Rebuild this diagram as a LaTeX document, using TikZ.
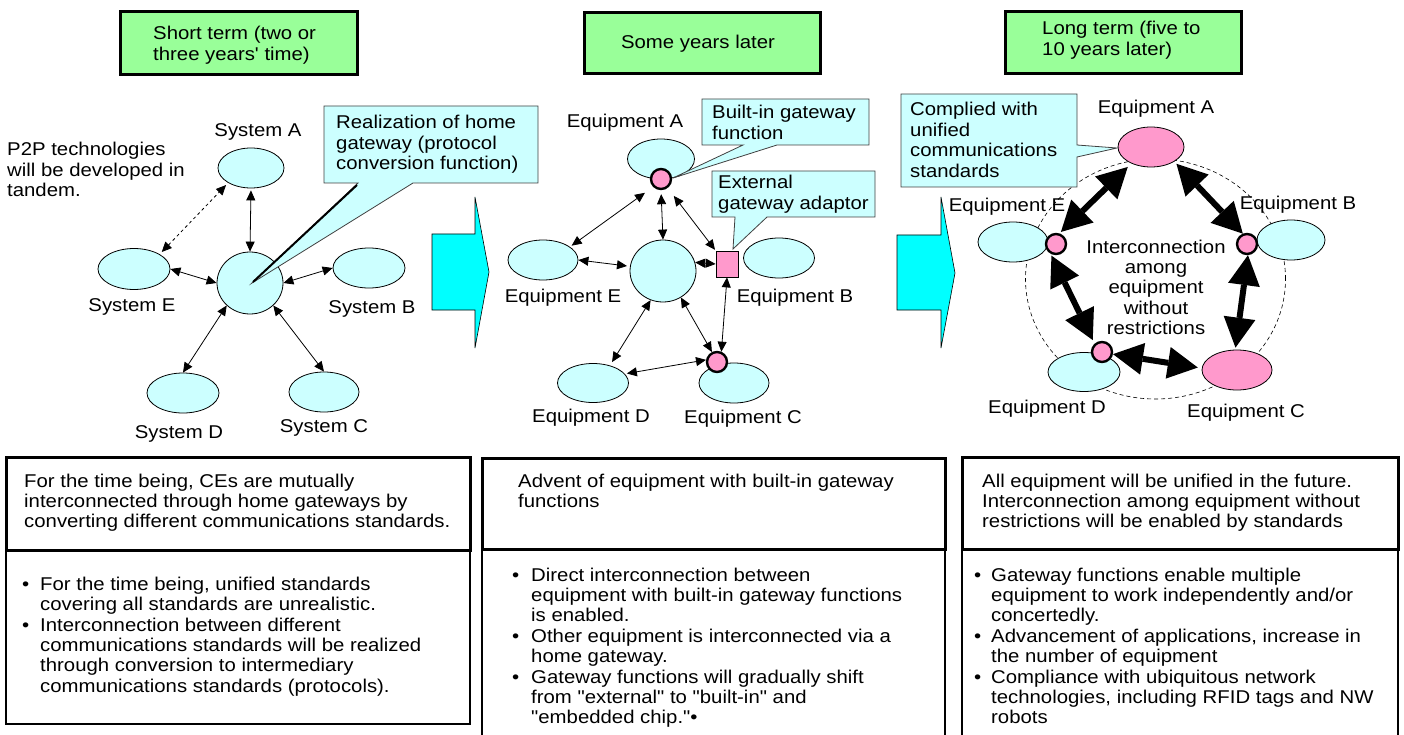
\documentclass[tikz,border=0pt]{standalone}
\usepackage{fontspec}
\newfontfamily\myfont{Liberation Sans}[FakeStretch=1.1]
\usetikzlibrary{arrows.meta,shapes.geometric}
\newcommand\myfs{\myfont\fontsize{18.5}{20.4}\selectfont}
\definecolor{lcyan}{HTML}{CCFFFF}
\definecolor{lgreen}{HTML}{99FF99}
\definecolor{lpink}{HTML}{FF99CC}
\definecolor{bcyan}{HTML}{00FFFF}
\begin{document}
\begin{tikzpicture}[x=1pt,y=-1pt,
  txt/.style={font=\myfs,inner sep=0pt,align=left,anchor=base west},
  lbl/.style={font=\myfs,inner sep=0pt,anchor=base},
  dev/.style={ellipse,draw,line width=0.8pt,fill=lcyan,inner sep=0pt,minimum width=70pt,minimum height=40pt},
  pdev/.style={dev,fill=lpink},
  gw/.style={circle,draw,line width=2.4pt,fill=lpink,inner sep=0pt,minimum size=20pt},
  titlebox/.style={draw,line width=3pt,fill=lgreen},
  callout/.style={draw=black!75,line width=0.8pt,fill=lcyan},
  bigarrow/.style={draw,line width=0.6pt,fill=bcyan},
  tarr/.style={{Triangle[length=10pt,width=9pt]}-{Triangle[length=10pt,width=9pt]},line width=0.8pt},
  Tarr/.style={{Triangle[length=30pt,width=32pt,line width=0pt]}-{Triangle[length=30pt,width=32pt,line width=0pt]},line width=6pt},
  topbox/.style={draw,line width=3pt},
  lowbox/.style={draw,line width=2.2pt}]
\useasboundingbox (0,0) rectangle (1404,735);
\clip (0,0) rectangle (1404,735);

% ---------------- title boxes (multi-line nodes are placed at the baseline of their last line)
\draw[titlebox] (120,12) rectangle (357,75);
\node[txt] (t1) at (153,60.4) {Short term (two or\\three years' time)};
\draw[titlebox] (584,13) rectangle (820,74);
\node[lbl] (t2) at (698,49) {Some years later};
\draw[titlebox] (1005,12) rectangle (1241,74);
\node[txt] (t3) at (1042,55.4) {Long term (five to\\10 years later)};

% ---------------- big arrows
\draw[bigarrow] (432,234) -- (475,234) -- (475,197) -- (489,272) -- (475,348) -- (475,310) -- (432,310) -- cycle;
\draw[bigarrow] (897,235) -- (941,235) -- (941,197) -- (955,273) -- (941,348) -- (941,310) -- (897,310) -- cycle;

% ---------------- left diagram
\node[txt] (p2p) at (7,196.8) {P2P technologies\\will be developed in\\tandem.};
\node[dev,minimum width=66pt] (sA) at (251,168) {};
\node[dev,minimum width=72pt,minimum height=41pt] (sE) at (134,269) {};
\node[dev,minimum width=72pt] (sB) at (369,268) {};
\node[dev,minimum width=72pt] (sD) at (183,393) {};
\node[dev] (sC) at (324,392) {};
\node[dev,minimum width=66pt,minimum height=62pt] (h1) at (250,283) {};
\node[lbl] (lsA) at (258,137) {System A};
\node[lbl] (lsE) at (132,311) {System E};
\node[lbl] (lsB) at (372,313) {System B};
\node[lbl] (lsD) at (179,438) {System D};
\node[lbl] (lsC) at (324,432) {System C};
\draw[tarr,shorten <=2pt] (sA.south) -- (h1.north);
\draw[tarr,dashed,shorten <=3pt,shorten >=3pt] (sE.30) -- (sA.213);
\draw[tarr] (sE.east) -- (h1.west);
\draw[tarr] (h1.east) -- (sB.west);
\draw[tarr] (h1.224) -- (sD.north);
\draw[tarr] (h1.316) -- (sC.north);
\draw[callout] (324,106) -- (538,106) -- (538,183) -- (413,183) -- (252,283) -- (358,183) -- (324,183) -- cycle;
\draw[line width=2pt] (357,185) -- (253,282);
\node[txt] (c1) at (336,169.8) {Realization of home\\gateway (protocol\\conversion function)};

% ---------------- middle diagram
\node[dev,minimum width=67pt] (eA) at (661,159) {};
\node[dev,minimum width=66pt,minimum height=62pt] (h2) at (663,271) {};
\node[dev] (eE) at (543,260) {};
\node[dev,minimum width=71pt] (eB) at (779,258) {};
\node[dev,minimum width=71pt,minimum height=39pt] (eD) at (593,383) {};
\node[dev] (eC) at (734,383) {};
\node[gw] (pA) at (661,179) {};
\node[gw] (pC) at (717,362) {};
\node[rectangle,draw,line width=0.8pt,fill=lpink,inner sep=0pt,minimum width=22pt,minimum height=26pt] (sq) at (727,264) {};
\node[lbl] (leA) at (625,128) {Equipment A};
\node[lbl] (leE) at (563,302) {Equipment E};
\node[lbl] (leB) at (795,302) {Equipment B};
\node[lbl] (leD) at (591,422) {Equipment D};
\node[lbl] (leC) at (743,423) {Equipment C};
\draw[tarr,shorten <=4pt] (pA.south) -- (h2.north);
\draw[tarr,shorten <=10pt,shorten >=2pt] (pA.225) -- (eE.26);
\draw[tarr,shorten <=10pt,shorten >=1pt] (pA.-53) -- (sq.north west);
\draw[tarr,shorten >=3pt] (eE.east) -- (h2.172);
\draw[tarr] (h2.15) -- (sq.west);
\draw[tarr] (sq.south) -- (pC.67);
\draw[tarr,shorten >=4pt] (h2.247) -- (eD.46);
\draw[tarr] (h2.304) -- (pC.117);
\draw[tarr,shorten <=2pt] (eD.16) -- (pC.169);
\draw[callout] (702,99) -- (869,99) -- (869,145) -- (777,145) -- (673,178) -- (743,145) -- (702,145) -- cycle;
\node[txt] (c2) at (712,139.4) {Built-in gateway\\function};
\draw[callout] (712,171) -- (875,171) -- (875,217) -- (767,217) -- (733,249) -- (735,217) -- (712,217) -- cycle;
\node[txt] (c3) at (718,209.4) {External\\gateway adaptor};

% ---------------- right diagram
\draw[dashed,line width=0.6pt,dash pattern=on 4pt off 3pt] (1155.5,279) ellipse [x radius=130pt,y radius=120pt];
\node[pdev,minimum width=66pt] (rA) at (1151,147) {};
\node[dev] (rE) at (1013,242) {};
\node[dev,minimum width=68pt] (rB) at (1291,240) {};
\node[dev,minimum width=72pt,minimum height=39pt] (rD) at (1084,372) {};
\node[pdev] (rC) at (1237,370) {};
\node[gw] (pE) at (1056,244) {};
\node[gw] (pB) at (1247,244) {};
\node[gw] (pD) at (1102,352) {};
\node[lbl] (lrA) at (1156,114) {Equipment A};
\node[lbl] (lrE) at (1007,212) {Equipment E};
\node[lbl] (lrB) at (1298,210) {Equipment B};
\node[lbl] (lrD) at (1047,413) {Equipment D};
\node[lbl] (lrC) at (1246,417) {Equipment C};
\node[lbl,align=center] (mid) at (1156,334.6) {Interconnection\\among\\equipment\\without\\restrictions};
\draw[Tarr,shorten <=5pt,shorten >=2pt] (rA.220) -- (pE.72);
\draw[Tarr,shorten <=3pt] (rA.-32) -- (pB.112);
\draw[Tarr,shorten <=2pt,shorten >=4pt] (pE.241) -- (pD.132);
\draw[Tarr,shorten >=2pt] (pB.-85) -- (rC.95);
\draw[Tarr,shorten >=4pt] (pD.-11) -- (rC.177);
\draw[callout] (901,94) -- (1077,94) -- (1077,145) -- (1117,148) -- (1077,157) -- (1077,187) -- (901,187) -- cycle;
\node[txt] (c4) at (910,177.2) {Complied with\\unified\\communications\\standards};

% ---------------- bottom boxes
\draw[topbox] (6,457) rectangle (470,550);
\draw[lowbox] (6,550) rectangle (470,724);
\node[txt] (b1) at (24,527.8) {For the time being, CEs are mutually\\interconnected through home gateways by\\converting different communications standards.};
\node[txt] (b1d1) at (22,590) {•};
\node[txt] (b1i1) at (40,610.4) {For the time being, unified standards\\covering all standards are unrealistic.};
\node[txt] (b1d2) at (22,631) {•};
\node[txt] (b1i2) at (40,692.2) {Interconnection between different\\communications standards will be realized\\through conversion to intermediary\\communications standards (protocols).};

\draw[topbox] (482,458) rectangle (945,549);
\draw[lowbox] (482,549) rectangle (945,750);
\node[txt] (b2) at (518,507.4) {Advent of equipment with built-in gateway\\functions};
\node[txt] (b2d1) at (512,581) {•};
\node[txt] (b2i1) at (531,621.8) {Direct interconnection between\\equipment with built-in gateway functions\\is enabled.};
\node[txt] (b2d2) at (512,642) {•};
\node[txt] (b2i2) at (531,662.4) {Other equipment is interconnected via a\\home gateway.};
\node[txt] (b2d3) at (512,683) {•};
\node[txt] (b2i3) at (531,723.8) {Gateway functions will gradually shift\\from "external" to "built-in" and\\"embedded chip."•};

\draw[topbox] (962,457) rectangle (1398,549);
\draw[lowbox] (962,549) rectangle (1398,750);
\node[txt] (b3) at (982,527.8) {All equipment will be unified in the future.\\Interconnection among equipment without\\restrictions will be enabled by standards};
\node[txt] (b3d1) at (974,581) {•};
\node[txt] (b3i1) at (991,621.8) {Gateway functions enable multiple\\equipment to work independently and/or\\concertedly.};
\node[txt] (b3d2) at (974,642) {•};
\node[txt] (b3i2) at (991,662.4) {Advancement of applications, increase in\\the number of equipment};
\node[txt] (b3d3) at (974,683) {•};
\node[txt] (b3i3) at (991,723.8) {Compliance with ubiquitous network\\technologies, including RFID tags and NW\\robots};
\end{tikzpicture}
\end{document}
